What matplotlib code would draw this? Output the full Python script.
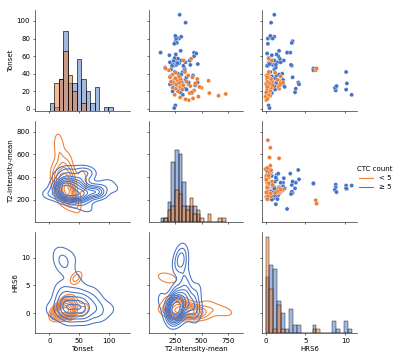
import matplotlib
matplotlib.use('Agg')
import matplotlib.pyplot as plt
from matplotlib.lines import Line2D
import pandas as pd
import seaborn as sns

# patients with CTC count >= 5
tonset_ge5 = [23, 21, 24, 26, 42, 29, 22, 16, 46, 44,
              77, 75, 64, 64, 49, 30, 28, 23, 19, 28,
              25, 33, 40, 55, 50, 36,
              4, 1, 20, 22, 18, 24, 26, 27, 28, 29,
              30, 31, 26, 28, 30, 27, 31, 29, 33, 35,
              37, 38, 34, 39, 42, 45, 47, 49, 50, 51,
              52, 53, 54, 55, 49, 50, 52, 53, 55, 51,
              57, 58, 60, 61, 62, 63, 66, 74, 80, 81,
              82, 80, 83, 98, 107]
t2_ge5 = [333, 310, 287, 267, 325, 296, 300, 325, 340, 345,
          260, 270, 430, 118, 330, 462, 380, 350, 300, 320,
          300, 350, 280, 390, 250, 360,
          255, 245, 230, 360, 410, 240, 250, 270, 300, 262,
          315, 240, 285, 205, 380, 440, 260, 225, 245, 290,
          210, 420, 258, 310, 250, 215, 160, 240, 265, 230,
          290, 205, 255, 310, 225, 395, 275, 350, 240, 465,
          280, 250, 430, 200, 260, 450, 305, 245, 290, 270,
          310, 262, 255, 351, 296]
hrs6_ge5 = [8.8, 8.8, 8.7, 8.9, 10.1, 10.2, 10.1, 10.8, 6.0, 6.0,
            3.4, 3.3, 3.1, 2.7, 3.3, 4.1, 4.2, 3.8, 3.7, 2.2,
            2.4, 2.2, 2.1, 2.3, 3.2, 3.4,
            0.4, 0.5, 0.3, 1.2, 0.8, 1.6, 0.2, 0.6, 1.0, 1.3,
            0.4, 0.9, 1.1, 0.3, 1.4, 0.7, 1.8, 0.1, 0.5, 1.2,
            0.8, 1.4, 0.2, 1.7, 0.6, 1.1, 1.3, 0.3, 0.9, 1.2,
            0.4, 1.5, 0.7, 1.0, 0.2, 1.3, 0.6, 1.9, 1.1, 0.5,
            1.8, 0.4, 1.6, 0.8, 1.4, 0.2, 1.7, 0.3, 0.3, 0.7,
            1.1, 0.9, 0.6, 0.7, 1.1]

# patients with CTC count < 5
tonset_lt5 = [17, 15, 32, 18, 44, 46, 57, 55,
              10, 12, 13, 14, 16, 11,
              18, 20, 21, 22, 23, 24, 19, 24,
              26, 27, 28, 29, 30, 31, 26, 28, 29, 30, 31, 27, 25,
              33, 34, 35, 36, 37, 38, 39, 34, 36,
              42, 41]
t2_lt5 = [725, 658, 565, 572, 195, 165, 403, 333,
          380, 420, 300, 470, 250, 350,
          390, 280, 430, 320, 260, 500, 410, 230,
          300, 270, 310, 285, 240, 360, 395, 265, 440, 290, 215, 330, 480,
          275, 305, 255, 415, 290, 375, 230, 460, 205,
          345, 260]
hrs6_lt5 = [0.3, 0.6, 1.7, 0.5, 6.3, 6.4, 0.4, 0.8,
            0.1, 0.2, 0.3, 0.0, 0.4, 0.2,
            0.1, 0.3, 0.6, 0.2, 1.7, 0.6, 0.1, 0.7,
            1.6, 1.8, 0.3, 1.9, 0.2, 0.8, 0.4, 0.1, 0.5, 2.2, 0.3, 0.9, 0.2,
            1.5, 0.2, 0.6, 0.4, 1.9, 0.1, 0.3, 0.7, 0.2,
            0.4, 1.2]

hue_levels = ['< 5', '≥ 5']
colors = ['#ED7D31', '#4472C4']
cols = ['Tonset', 'T2-intensity-mean', 'HRS6']
bin_widths = {'Tonset': 7.8, 'T2-intensity-mean': 34, 'HRS6': 0.5}
# axis ranges as they appear in the original figure
limits = {'Tonset': [(-24, 135), (-2.3, 112.3)],
          'T2-intensity-mean': [(6, 888), (4, 894)],
          'HRS6': [(-0.42, 11.44), (-3.5, 14.6)]}

df = pd.DataFrame({
    'Tonset': tonset_ge5 + tonset_lt5,
    'T2-intensity-mean': t2_ge5 + t2_lt5,
    'HRS6': hrs6_ge5 + hrs6_lt5,
    'CTC count': ['≥ 5'] * len(tonset_ge5) + ['< 5'] * len(tonset_lt5),
})


def diag_hist(x, hue=None, **kws):
    # same as sns.histplot but with a bin width per variable
    sns.histplot(x=x, hue=hue, binwidth=bin_widths[x.name], ax=plt.gca(), **kws)


g = sns.PairGrid(df, vars=cols, hue='CTC count', hue_order=hue_levels,
                 palette=colors, height=2.4)
g.map_upper(sns.scatterplot)
g.map_diag(diag_hist)
g.map_lower(sns.kdeplot)

for i, var in enumerate(cols):
    g.axes[2, i].set_xlim(limits[var][0])
    g.axes[i, 0 if i else 1].set_ylim(limits[var][1])

fig = g.figure
fig.set_size_inches(8, 7.22)
fig.subplots_adjust(left=0.0875, right=0.892, top=0.972, bottom=0.078,
                    wspace=0.2, hspace=0.1)

handles = [Line2D([], [], color=c, lw=1.5) for c in colors]
fig.legend(handles, hue_levels, title='CTC count', loc='center left',
           bbox_to_anchor=(0.878, 0.507), frameon=False)

fig.savefig('out.png', dpi=50)
